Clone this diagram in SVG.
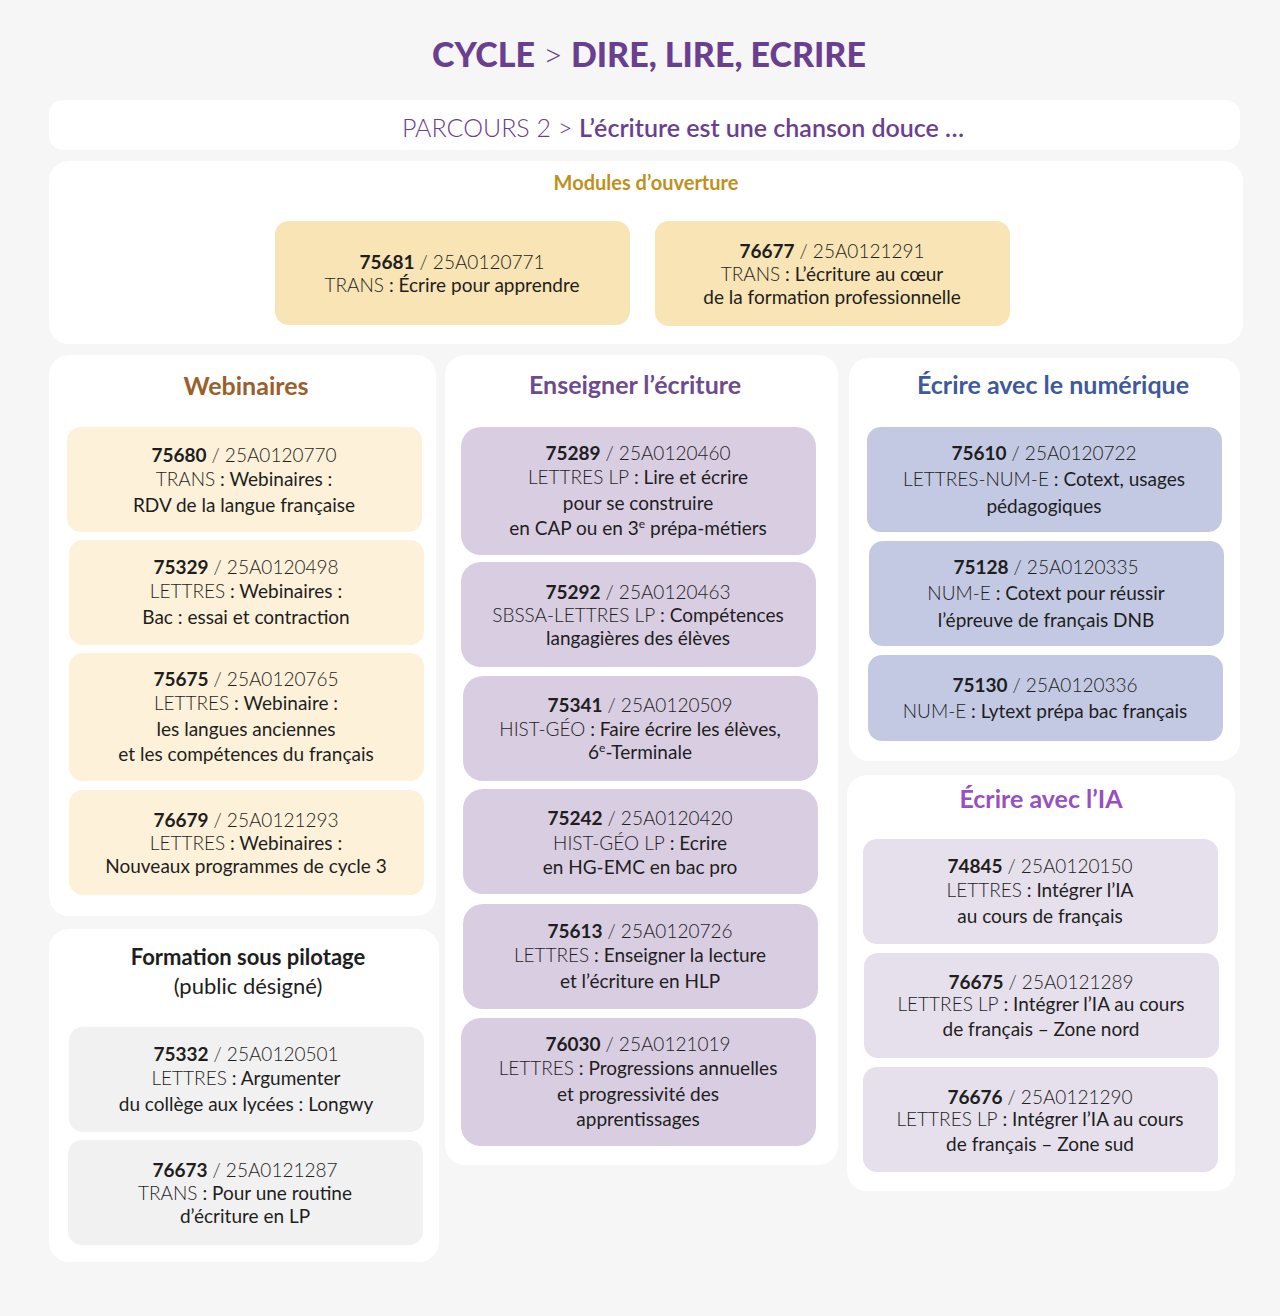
<svg xmlns="http://www.w3.org/2000/svg" width="1280" height="1316" viewBox="0 0 1280 1316">
<style>
text{font-family:Lato,"Noto Sans","Liberation Sans",sans-serif;text-anchor:middle;fill:#1e1e1e;font-size:19px}
.b{font-weight:700}.l{font-weight:300}
.panel{fill:#ffffff}
.y1{fill:#f8e4b4}.y2{fill:#fdf1da}.p{fill:#d9cde2}.bl{fill:#c3c9e2}.ia{fill:#e6e0ec}.g{fill:#f1f1f1}
.h{font-size:25px;font-weight:700}
</style>
<rect width="1280" height="1316" fill="#f6f6f6"/>
<g id="title"><text x="649" y="67" style="font-size:34px;font-weight:900;fill:#6b3f8f">CYCLE <tspan style="font-weight:300">&gt;</tspan> DIRE, LIRE, ECRIRE</text></g>
<g id="parcours"><rect class="panel" x="49" y="100" width="1191" height="50" rx="14"/>
<text x="683" y="137" style="font-size:25px;fill:#6b3f8f"><tspan class="l">PARCOURS 2 &gt; </tspan><tspan style="font-weight:600">L’écriture est une chanson douce …</tspan></text></g>
<g id="modules"><rect class="panel" x="49" y="161" width="1194" height="183" rx="20"/>
<text x="646" y="190" style="font-size:20px;font-weight:700;fill:#c0901c">Modules d’ouverture</text>
<rect class="y1" x="275" y="221" width="355" height="104" rx="14"/>
<text x="452" y="269"><tspan class="b">75681</tspan> <tspan class="l">/ 25A0120771</tspan></text>
<text x="452" y="292"><tspan class="l">TRANS</tspan> : Écrire pour apprendre</text>
<rect class="y1" x="655" y="221" width="355" height="105" rx="14"/>
<text x="832" y="258"><tspan class="b">76677</tspan> <tspan class="l">/ 25A0121291</tspan></text>
<text x="832" y="281"><tspan class="l">TRANS</tspan> : L’écriture au cœur</text>
<text x="832" y="304">de la formation professionnelle</text></g>
<g id="webinaires"><rect class="panel" x="49" y="355" width="387" height="561" rx="20"/>
<text x="246" y="395" class="h" style="fill:#9a5f2a">Webinaires</text>
<rect class="y2" x="67" y="427" width="355" height="105" rx="14"/>
<text x="244" y="462"><tspan class="b">75680</tspan> <tspan class="l">/ 25A0120770</tspan></text>
<text x="244" y="486"><tspan class="l">TRANS</tspan> : Webinaires :</text>
<text x="244" y="512">RDV de la langue française</text>
<rect class="y2" x="69" y="540" width="355" height="105" rx="14"/>
<text x="246" y="574"><tspan class="b">75329</tspan> <tspan class="l">/ 25A0120498</tspan></text>
<text x="246" y="598"><tspan class="l">LETTRES</tspan> : Webinaires :</text>
<text x="246" y="624">Bac : essai et contraction</text>
<rect class="y2" x="69" y="653" width="355" height="128" rx="14"/>
<text x="246" y="686"><tspan class="b">75675</tspan> <tspan class="l">/ 25A0120765</tspan></text>
<text x="246" y="710"><tspan class="l">LETTRES</tspan> : Webinaire :</text>
<text x="246" y="736">les langues anciennes</text>
<text x="246" y="761">et les compétences du français</text>
<rect class="y2" x="69" y="790" width="355" height="105" rx="14"/>
<text x="246" y="827"><tspan class="b">76679</tspan> <tspan class="l">/ 25A0121293</tspan></text>
<text x="246" y="850"><tspan class="l">LETTRES</tspan> : Webinaires :</text>
<text x="246" y="873">Nouveaux programmes de cycle 3</text></g>
<g id="formation"><rect class="panel" x="49" y="929" width="390" height="333" rx="20"/>
<text x="248" y="965" style="font-size:22px;font-weight:700">Formation sous pilotage</text>
<text x="248" y="994" style="font-size:22px">(public désigné)</text>
<rect class="g" x="69" y="1027" width="355" height="105" rx="14"/>
<text x="246" y="1061"><tspan class="b">75332</tspan> <tspan class="l">/ 25A0120501</tspan></text>
<text x="246" y="1085"><tspan class="l">LETTRES</tspan> : Argumenter</text>
<text x="246" y="1111">du collège aux lycées : Longwy</text>
<rect class="g" x="68" y="1140" width="355" height="105" rx="14"/>
<text x="245" y="1177"><tspan class="b">76673</tspan> <tspan class="l">/ 25A0121287</tspan></text>
<text x="245" y="1200"><tspan class="l">TRANS</tspan> : Pour une routine</text>
<text x="245" y="1223">d’écriture en LP</text></g>
<g id="enseigner"><rect class="panel" x="445" y="355" width="393" height="810" rx="20"/>
<text x="635" y="394" class="h" style="fill:#6e4a8e">Enseigner l’écriture</text>
<rect class="p" x="461" y="427" width="355" height="128" rx="20"/>
<text x="638" y="460"><tspan class="b">75289</tspan> <tspan class="l">/ 25A0120460</tspan></text>
<text x="638" y="484"><tspan class="l">LETTRES LP</tspan> : Lire et écrire</text>
<text x="638" y="510">pour se construire</text>
<text x="638" y="535">en CAP ou en 3<tspan style="font-size:12px" dy="-7">e</tspan><tspan dy="7"> prépa-métiers</tspan></text>
<rect class="p" x="461" y="562" width="355" height="105" rx="20"/>
<text x="638" y="599"><tspan class="b">75292</tspan> <tspan class="l">/ 25A0120463</tspan></text>
<text x="638" y="622"><tspan class="l">SBSSA-LETTRES LP</tspan> : Compétences</text>
<text x="638" y="645">langagières des élèves</text>
<rect class="p" x="463" y="676" width="355" height="105" rx="20"/>
<text x="640" y="712"><tspan class="b">75341</tspan> <tspan class="l">/ 25A0120509</tspan></text>
<text x="640" y="736"><tspan class="l">HIST-GÉO</tspan> : Faire écrire les élèves,</text>
<text x="640" y="759">6<tspan style="font-size:12px" dy="-7">e</tspan><tspan dy="7">-Terminale</tspan></text>
<rect class="p" x="463" y="789" width="355" height="105" rx="20"/>
<text x="640" y="825"><tspan class="b">75242</tspan> <tspan class="l">/ 25A0120420</tspan></text>
<text x="640" y="850"><tspan class="l">HIST-GÉO LP</tspan> : Ecrire</text>
<text x="640" y="874">en HG-EMC en bac pro</text>
<rect class="p" x="463" y="904" width="355" height="105" rx="20"/>
<text x="640" y="938"><tspan class="b">75613</tspan> <tspan class="l">/ 25A0120726</tspan></text>
<text x="640" y="962"><tspan class="l">LETTRES</tspan> : Enseigner la lecture</text>
<text x="640" y="988">et l’écriture en HLP</text>
<rect class="p" x="461" y="1018" width="355" height="128" rx="20"/>
<text x="638" y="1051"><tspan class="b">76030</tspan> <tspan class="l">/ 25A0121019</tspan></text>
<text x="638" y="1075"><tspan class="l">LETTRES</tspan> : Progressions annuelles</text>
<text x="638" y="1101">et progressivité des</text>
<text x="638" y="1126">apprentissages</text></g>
<g id="numerique"><rect class="panel" x="849" y="358" width="391" height="403" rx="20"/>
<text x="1053" y="394" class="h" style="fill:#3e5a9a">Écrire avec le numérique</text>
<rect class="bl" x="867" y="427" width="355" height="105" rx="14"/>
<text x="1044" y="460"><tspan class="b">75610</tspan> <tspan class="l">/ 25A0120722</tspan></text>
<text x="1044" y="486"><tspan class="l">LETTRES-NUM-E</tspan> : Cotext, usages</text>
<text x="1044" y="513">pédagogiques</text>
<rect class="bl" x="869" y="541" width="355" height="105" rx="14"/>
<text x="1046" y="574"><tspan class="b">75128</tspan> <tspan class="l">/ 25A0120335</tspan></text>
<text x="1046" y="600"><tspan class="l">NUM-E</tspan> : Cotext pour réussir</text>
<text x="1046" y="627">l’épreuve de français DNB</text>
<rect class="bl" x="868" y="655" width="355" height="86" rx="14"/>
<text x="1045" y="692"><tspan class="b">75130</tspan> <tspan class="l">/ 25A0120336</tspan></text>
<text x="1045" y="718"><tspan class="l">NUM-E</tspan> : Lytext prépa bac français</text></g>
<g id="ia"><rect class="panel" x="847" y="775" width="388" height="416" rx="20"/>
<text x="1041" y="808" class="h" style="fill:#9a4fc0">Écrire avec l’IA</text>
<rect class="ia" x="863" y="839" width="355" height="105" rx="14"/>
<text x="1040" y="873"><tspan class="b">74845</tspan> <tspan class="l">/ 25A0120150</tspan></text>
<text x="1040" y="897"><tspan class="l">LETTRES</tspan> : Intégrer l’IA</text>
<text x="1040" y="923">au cours de français</text>
<rect class="ia" x="864" y="953" width="355" height="105" rx="14"/>
<text x="1041" y="989"><tspan class="b">76675</tspan> <tspan class="l">/ 25A0121289</tspan></text>
<text x="1041" y="1011"><tspan class="l">LETTRES LP</tspan> : Intégrer l’IA au cours</text>
<text x="1041" y="1036">de français – Zone nord</text>
<rect class="ia" x="863" y="1067" width="355" height="105" rx="14"/>
<text x="1040" y="1104"><tspan class="b">76676</tspan> <tspan class="l">/ 25A0121290</tspan></text>
<text x="1040" y="1126"><tspan class="l">LETTRES LP</tspan> : Intégrer l’IA au cours</text>
<text x="1040" y="1151">de français – Zone sud</text></g>
<g id="connectors"/>
</svg>
